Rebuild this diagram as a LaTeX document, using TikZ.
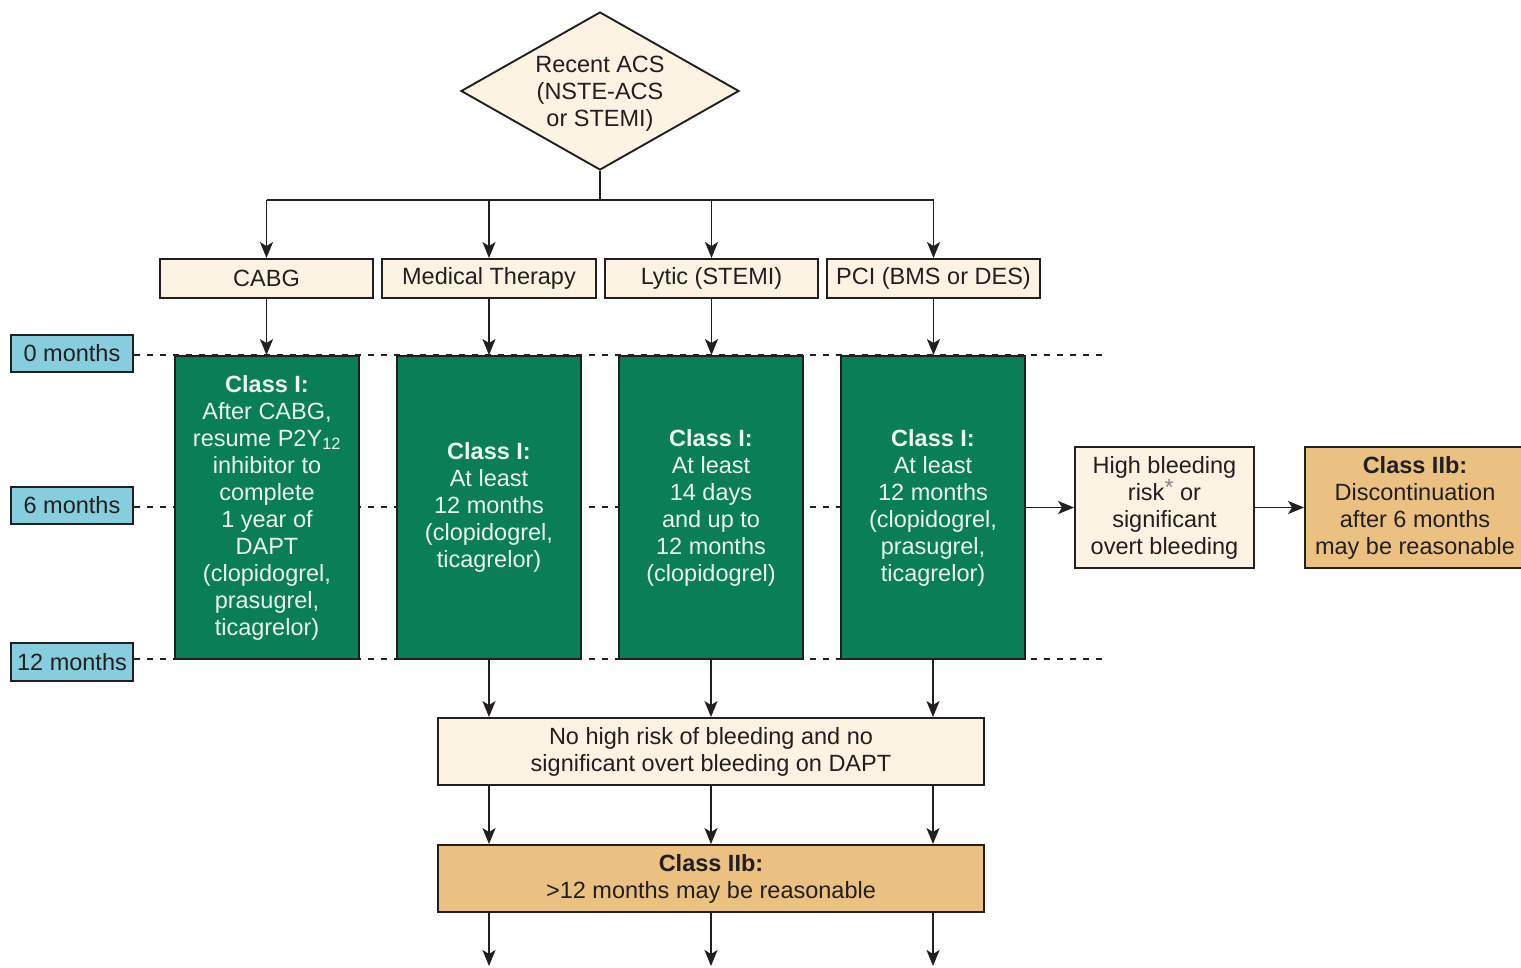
\documentclass[tikz,border=0pt]{standalone}
\usepackage{fontspec}
\setmainfont{Liberation Sans}
\usetikzlibrary{shapes.geometric,arrows.meta}
\definecolor{cream}{RGB}{252,243,226}
\definecolor{dapt}{RGB}{10,126,86}
\definecolor{tanbox}{RGB}{234,193,128}
\definecolor{sky}{RGB}{134,206,222}
\definecolor{ink}{RGB}{35,31,32}
\definecolor{paletext}{RGB}{234,246,238}

\begin{document}
\begin{tikzpicture}[x=1pt,y=-1pt,
  every node/.style={font=\fontsize{23.5}{27}\selectfont, text=ink},
  box/.style={draw=ink, line width=1.9pt, inner sep=0pt, align=center},
  creambox/.style={box, fill=cream},
  tanfill/.style={box, fill=tanbox},
  greenbox/.style={box, fill=dapt, text=paletext, minimum width=184pt, minimum height=303pt},
  monthbox/.style={box, fill=sky, minimum width=122pt},
  arr/.style={draw=ink, line width=1.9pt, -{Stealth[length=16pt,width=13pt,inset=4pt]}},
  link/.style={draw=ink, line width=1.9pt},
  timeline/.style={draw=ink, line width=1.6pt, dash pattern=on 6pt off 7pt}
]
\useasboundingbox (0,0) rectangle (1521,967);

% entry decision
\node[diamond, draw=ink, line width=1.9pt, fill=cream, inner sep=0pt,
      minimum width=278pt, minimum height=158pt] (acs) at (600,91) {};
\node[align=center, inner sep=0pt] (acstext) at (600,94) {Recent ACS\\(NSTE-ACS\\or STEMI)};

% treatment strategies
\node[creambox, minimum width=213pt, minimum height=39pt] (cabg) at (266.5,278.5) {CABG};
\node[creambox, minimum width=214pt, minimum height=39pt] (med)  at (489,278.5) {Medical Therapy};
\node[creambox, minimum width=213pt, minimum height=39pt] (lytic) at (711.5,278.5) {Lytic (STEMI)};
\node[creambox, minimum width=213pt, minimum height=39pt] (pci)  at (933.5,278.5) {PCI (BMS or DES)};

% time scale
\node[monthbox, minimum height=37pt] (m0)  at (72,353.5) {0 months};
\node[monthbox, minimum height=37pt] (m6)  at (72,505.5) {6 months};
\node[monthbox, minimum height=38pt] (m12) at (72,662) {12 months};
\coordinate (e0)  at (1105,355);
\coordinate (e6)  at (1030,507);
\coordinate (e12) at (1105,659);
\draw[timeline] (m0.east |- e0) -- (e0);
\draw[timeline] (m6.east |- e6) -- (e6);
\draw[timeline] (m12.east |- e12) -- (e12);

% class I recommendations
\node[greenbox] (gcabg) at (267,507.5) {\textbf{Class I:}\\After CABG,\\resume P2Y\textsubscript{12}\\inhibitor to\\complete\\1 year of\\DAPT\\(clopidogrel,\\prasugrel,\\ticagrelor)};
\node[greenbox] (gmed) at (489,507.5) {\textbf{Class I:}\\At least\\12 months\\(clopidogrel,\\ticagrelor)};
\node[greenbox] (glytic) at (711,507.5) {\textbf{Class I:}\\At least\\14 days\\and up to\\12 months\\(clopidogrel)};
\node[greenbox] (gpci) at (933,507.5) {\textbf{Class I:}\\At least\\12 months\\(clopidogrel,\\prasugrel,\\ticagrelor)};

% bleeding branch
\node[creambox, minimum width=179pt, minimum height=121pt] (bleed) at (1164.5,507.5) {High bleeding\\risk{\color{ink!55}\raisebox{0.2em}{*}} or\\significant\\overt bleeding};
\node[tanfill, minimum width=220pt, minimum height=121pt] (stop6) at (1415,507.5) {\textbf{Class IIb:}\\Discontinuation\\after 6 months\\may be reasonable};

% continuation
\node[creambox, minimum width=546pt, minimum height=67pt] (nobleed) at (711,751.5) {No high risk of bleeding and no\\significant overt bleeding on DAPT};
\node[tanfill, minimum width=546pt, minimum height=67pt] (beyond) at (711,878.5) {\textbf{Class IIb:}\\>12 months may be reasonable};

% connectors
\coordinate (split) at (600,200);
\draw[link] (acs.south) -- (split);
\draw[link] (cabg.north |- split) -- (pci.north |- split);
\foreach \n in {cabg,med,lytic,pci}
  \draw[arr] (\n.north |- split) -- (\n.north);
\draw[arr] (cabg.south) -- (gcabg.north -| cabg.south);
\draw[arr] (med.south) -- (gmed.north -| med.south);
\draw[arr] (lytic.south) -- (glytic.north -| lytic.south);
\draw[arr] (pci.south) -- (gpci.north -| pci.south);

\draw[arr] (gpci.east) -- (bleed.west);
\draw[arr] (bleed.east) -- (stop6.west);

\foreach \n in {gmed,glytic,gpci} {
  \draw[arr] (\n.south) -- (\n.south |- nobleed.north);
  \draw[arr] (\n.south |- nobleed.south) -- (\n.south |- beyond.north);
}
\coordinate (outmed) at (489,966);
\coordinate (outlytic) at (711,966);
\coordinate (outpci) at (933,966);
\draw[arr] (gmed.south |- beyond.south) -- (outmed);
\draw[arr] (glytic.south |- beyond.south) -- (outlytic);
\draw[arr] (gpci.south |- beyond.south) -- (outpci);
\end{tikzpicture}
\end{document}
